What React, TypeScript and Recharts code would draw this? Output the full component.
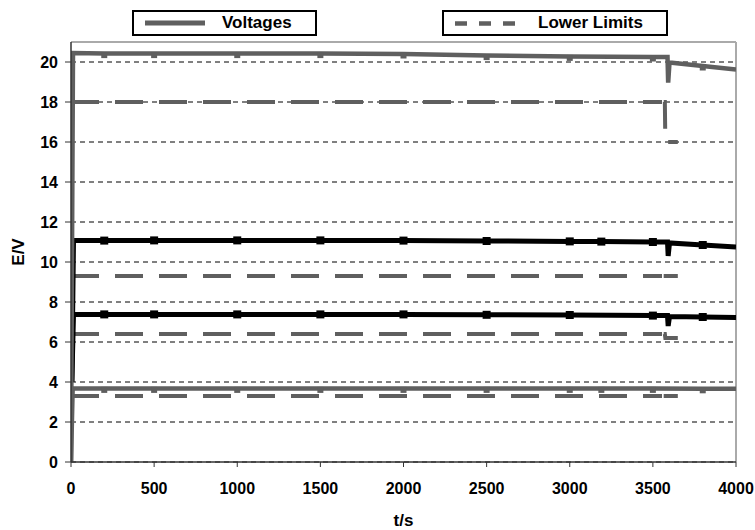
import React from 'react';
import { LineChart, Line, XAxis, YAxis, CartesianGrid, ReferenceLine, Legend, Label } from 'recharts';

// ---- data (t in s, v in V) ----
const xTicks = [0, 500, 1000, 1500, 2000, 2500, 3000, 3500, 4000];
const yTicks = [0, 2, 4, 6, 8, 10, 12, 14, 16, 18, 20];
const markerTimes = [200, 500, 1000, 1500, 2000, 2500, 3000, 3190, 3500, 3800];

const voltageTop = [
  { t: 0, v: 0 }, { t: 12, v: 20.45 }, { t: 200, v: 20.42 }, { t: 500, v: 20.42 },
  { t: 1000, v: 20.42 }, { t: 1500, v: 20.42 }, { t: 2000, v: 20.4 }, { t: 2500, v: 20.32 },
  { t: 3000, v: 20.28 }, { t: 3500, v: 20.25 }, { t: 3588, v: 20.25 }, { t: 3592, v: 18.97 },
  { t: 3600, v: 19.97 }, { t: 3800, v: 19.8 }, { t: 4000, v: 19.63 },
];
const voltageUpper = [
  { t: 5, v: 4.0 }, { t: 15, v: 11.07 }, { t: 200, v: 11.07 }, { t: 500, v: 11.08 },
  { t: 1000, v: 11.08 }, { t: 1500, v: 11.08 }, { t: 2000, v: 11.07 }, { t: 2500, v: 11.05 },
  { t: 3000, v: 11.03 }, { t: 3190, v: 11.02 }, { t: 3500, v: 11.0 }, { t: 3588, v: 11.0 },
  { t: 3592, v: 10.3 }, { t: 3600, v: 10.95 }, { t: 3800, v: 10.85 }, { t: 4000, v: 10.75 },
];
const voltageMiddle = [
  { t: 5, v: 4.0 }, { t: 15, v: 7.38 }, { t: 200, v: 7.38 }, { t: 500, v: 7.38 },
  { t: 1000, v: 7.38 }, { t: 1500, v: 7.38 }, { t: 2000, v: 7.38 }, { t: 2500, v: 7.36 },
  { t: 3000, v: 7.35 }, { t: 3500, v: 7.32 }, { t: 3588, v: 7.32 }, { t: 3592, v: 6.8 },
  { t: 3600, v: 7.27 }, { t: 3800, v: 7.25 }, { t: 4000, v: 7.22 },
];
const voltageBottom = [
  { t: 0, v: 0 }, { t: 10, v: 3.68 }, { t: 200, v: 3.68 }, { t: 500, v: 3.68 },
  { t: 1000, v: 3.68 }, { t: 1500, v: 3.68 }, { t: 2000, v: 3.68 }, { t: 2500, v: 3.68 },
  { t: 3000, v: 3.68 }, { t: 3190, v: 3.68 }, { t: 3500, v: 3.68 }, { t: 3800, v: 3.66 },
  { t: 4000, v: 3.66 },
];

const limitTop = [
  { t: 0, v: 18 }, { t: 3555, v: 18 }, { t: 3560, v: null }, { t: 3565, v: 18 },
  { t: 3572, v: 18 }, { t: 3575, v: 16 }, { t: 3650, v: 16 },
];
const limitUpper = [
  { t: 0, v: 9.3 }, { t: 3555, v: 9.3 }, { t: 3560, v: null }, { t: 3565, v: 9.3 }, { t: 3650, v: 9.3 },
];
const limitMiddle = [
  { t: 0, v: 6.4 }, { t: 3555, v: 6.4 }, { t: 3560, v: null }, { t: 3565, v: 6.4 },
  { t: 3572, v: 6.4 }, { t: 3575, v: 6.2 }, { t: 3650, v: 6.2 },
];
const limitBottom = [
  { t: 0, v: 3.3 }, { t: 3555, v: 3.3 }, { t: 3560, v: null }, { t: 3565, v: 3.3 }, { t: 3650, v: 3.3 },
];

// ---- styles ----
const GRAY = '#5f5f5f';
const FONT = '"Liberation Sans", Arial, sans-serif';

function makeDot(color: string, size: number, dy: number) {
  return (props: any) => {
    const { cx, cy, payload, index } = props;
    if (cx == null || cy == null || !payload || !markerTimes.includes(payload.t)) {
      return <g key={`e${index}`} />;
    }
    return (
      <rect key={`d${index}`} x={cx - size / 2} y={cy - size / 2 + dy} width={size} height={size} fill={color} />
    );
  };
}

const renderLegend = () => (
  <div style={{ position: 'relative', width: 755, height: 40, fontFamily: FONT, fontWeight: 'bold', fontSize: 17, color: '#000' }}>
    <div style={{ position: 'absolute', left: 132, top: 10, width: 185, height: 26, border: '2px solid #000', boxSizing: 'border-box', background: '#fff' }}>
      <svg style={{ position: 'absolute', left: 11, top: 0 }} width={60} height={22}>
        <line x1={0} x2={60} y1={11} y2={11} stroke={GRAY} strokeWidth={5} />
      </svg>
      <span style={{ position: 'absolute', left: 88, top: 0, lineHeight: '22px', whiteSpace: 'nowrap' }}>Voltages</span>
    </div>
    <div style={{ position: 'absolute', left: 442, top: 10, width: 226, height: 26, border: '2px solid #000', boxSizing: 'border-box', background: '#fff' }}>
      <svg style={{ position: 'absolute', left: 11, top: 0 }} width={62} height={22}>
        <line x1={0} x2={62} y1={11.5} y2={11.5} stroke={GRAY} strokeWidth={4.5} strokeDasharray="12 12" />
      </svg>
      <span style={{ position: 'absolute', left: 94, top: 0, lineHeight: '22px', whiteSpace: 'nowrap' }}>Lower Limits</span>
    </div>
  </div>
);

const tickStyle = { fill: '#000', fontSize: 16, fontWeight: 'bold', fontFamily: FONT };

export default function App() {
  return (
    <div style={{ position: 'absolute', left: 0, top: 0, width: 755, height: 530, background: '#fff' }}>
      <LineChart width={755} height={530} margin={{ top: 42, right: 19, bottom: 0, left: 0 }}>
        <CartesianGrid vertical={false} stroke="#000" strokeDasharray="5 4" />
        <XAxis
          dataKey="t"
          type="number"
          domain={[0, 4000]}
          ticks={xTicks}
          height={68}
          tickSize={5}
          tickMargin={16}
          tick={tickStyle}
          axisLine={{ stroke: '#333', strokeWidth: 1.5 }}
          tickLine={{ stroke: '#333' }}
          allowDataOverflow
          label={
            <Label
              content={(p: any) => {
                const vb = p.viewBox;
                return (
                  <text x={vb.x + vb.width / 2} y={vb.y + 58} textAnchor="middle" dominantBaseline="central"
                    fontFamily={FONT} fontWeight="bold" fontSize={17} fill="#000">t/s</text>
                );
              }}
            />
          }
        />
        <YAxis
          type="number"
          domain={[0, 21]}
          ticks={yTicks}
          width={71}
          tickSize={6}
          tickMargin={7}
          tick={tickStyle}
          axisLine={{ stroke: '#333', strokeWidth: 1.5 }}
          tickLine={{ stroke: '#333' }}
          allowDataOverflow
          label={
            <Label
              content={(p: any) => {
                const vb = p.viewBox;
                const cx = vb.x + 18;
                const cy = vb.y + vb.height / 2;
                return (
                  <text x={cx} y={cy} transform={`rotate(-90 ${cx} ${cy})`} textAnchor="middle" dominantBaseline="central"
                    fontFamily={FONT} fontWeight="bold" fontSize={17} fill="#000">E/V</text>
                );
              }}
            />
          }
        />
        <ReferenceLine y={21} stroke="#aaaaaa" strokeWidth={2} />
        <ReferenceLine x={4000} stroke="#aaaaaa" strokeWidth={2} />
        <Legend content={renderLegend} layout="horizontal" verticalAlign="middle" align="center"
          wrapperStyle={{ left: 0, top: 0, width: 755, height: 40 }} />

        <Line data={limitTop} dataKey="v" name="Lower Limits" stroke={GRAY} strokeWidth={4} strokeDasharray="28 16" dot={false} activeDot={false} isAnimationActive={false} type="linear" />
        <Line data={limitUpper} dataKey="v" name="Lower Limits 2" stroke={GRAY} strokeWidth={4} strokeDasharray="28 16" dot={false} activeDot={false} isAnimationActive={false} type="linear" />
        <Line data={limitMiddle} dataKey="v" name="Lower Limits 3" stroke={GRAY} strokeWidth={4} strokeDasharray="28 16" dot={false} activeDot={false} isAnimationActive={false} type="linear" />
        <Line data={limitBottom} dataKey="v" name="Lower Limits 4" stroke={GRAY} strokeWidth={4} strokeDasharray="28 16" dot={false} activeDot={false} isAnimationActive={false} type="linear" />

        <Line data={voltageBottom} dataKey="v" name="Voltages 4" stroke={GRAY} strokeWidth={4.5} dot={makeDot(GRAY, 6, 1.5)} activeDot={false} isAnimationActive={false} type="linear" />
        <Line data={voltageMiddle} dataKey="v" name="Voltages 3" stroke="#000" strokeWidth={5} dot={makeDot('#000', 8, 0)} activeDot={false} isAnimationActive={false} type="linear" />
        <Line data={voltageUpper} dataKey="v" name="Voltages 2" stroke="#000" strokeWidth={5} dot={makeDot('#000', 8, 0)} activeDot={false} isAnimationActive={false} type="linear" />
        <Line data={voltageTop} dataKey="v" name="Voltages" stroke={GRAY} strokeWidth={4.5} dot={makeDot(GRAY, 6, 1.5)} activeDot={false} isAnimationActive={false} type="linear" />
      </LineChart>
    </div>
  );
}
